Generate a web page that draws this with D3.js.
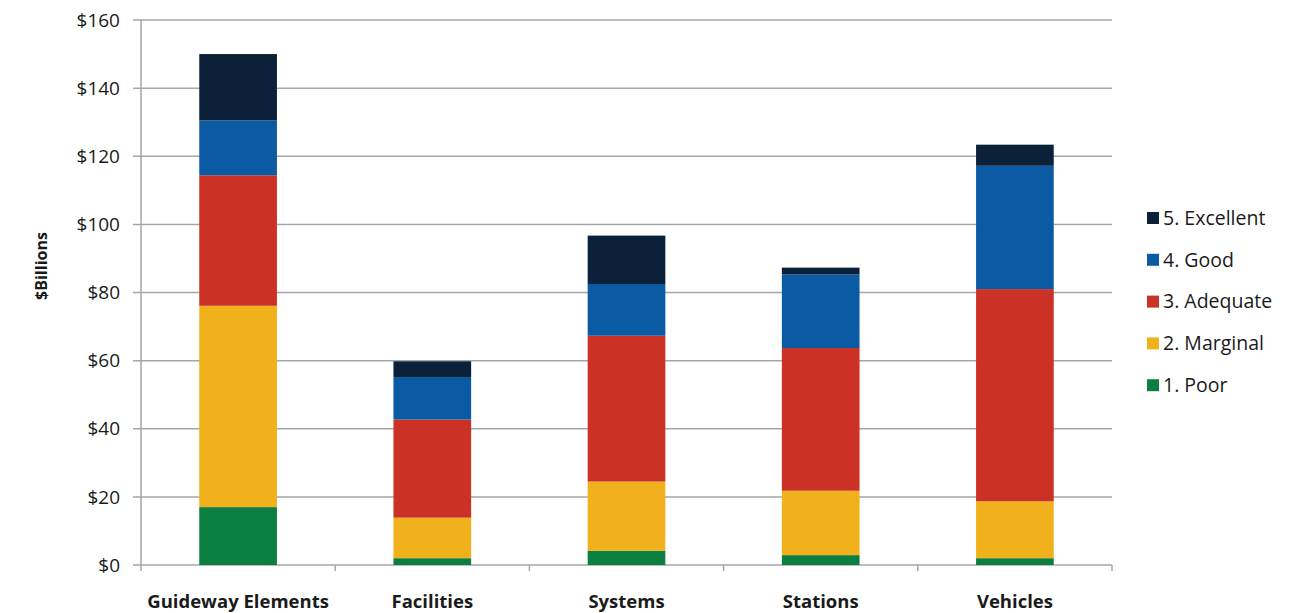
<!DOCTYPE html>
<html>
<head>
<meta charset="utf-8">
<script src="https://cdn.jsdelivr.net/npm/d3@7"></script>
<style>
  body { margin: 0; background: #fff; }
  text { font-family: "Open Sans", "Liberation Sans", sans-serif; fill: #1a1a1a; }
</style>
</head>
<body>
<div id="chart"></div>
<script>
// categories and condition series (values in $billions)
const categories = ["Guideway Elements", "Facilities", "Systems", "Stations", "Vehicles"];
const series = ["1. Poor", "2. Marginal", "3. Adequate", "4. Good", "5. Excellent"];
const poor      = [17.0, 2.0, 4.2, 2.9, 2.0];
const marginal  = [59.1, 11.9, 20.3, 18.9, 16.7];
const adequate  = [38.3, 28.8, 42.8, 41.9, 62.3];
const good      = [16.1, 12.5, 15.2, 21.6, 36.2];
const excellent = [19.5, 4.6, 14.2, 2.0, 6.2];
const yTicks = [0, 20, 40, 60, 80, 100, 120, 140, 160];
const colors = ["#0b7f40", "#f0b11d", "#cc3126", "#0a5ba4", "#0a2139"];

// build rows for d3.stack
const seriesValues = [poor, marginal, adequate, good, excellent];
const rows = categories.map(function(c, i) {
    let r = { cat: c };
    series.forEach(function(s, j) { r[s] = seriesValues[j][i]; });
    return r;
});

var svg = d3.select("#chart").append("svg")
    .attr("width", 1295)
    .attr("height", 613);

var plotLeft = 141, plotRight = 1112, plotTop = 20, plotBottom = 565;

var x = d3.scaleBand()
    .domain(categories)
    .range([plotLeft, plotRight])
    .paddingInner(0.6)
    .paddingOuter(0.3);

var y = d3.scaleLinear()
    .domain([0, 160])
    .range([plotBottom, plotTop]);

// gridlines
svg.append("g")
    .selectAll("line")
    .data(yTicks)
    .enter()
    .append("line")
    .attr("x1", plotLeft - 8)
    .attr("x2", plotRight)
    .attr("y1", function(d) { return y(d); })
    .attr("y2", function(d) { return y(d); })
    .attr("stroke", "#a6a6a6")
    .attr("stroke-width", 1.5);

// y axis labels
svg.append("g")
    .selectAll("text")
    .data(yTicks)
    .enter()
    .append("text")
    .attr("x", plotLeft - 21)
    .attr("y", function(d) { return y(d); })
    .attr("dy", "0.35em")
    .attr("text-anchor", "end")
    .style("font-size", "19px")
    .text(function(d) { return "$" + d; });

// y axis line
svg.append("line")
    .attr("x1", plotLeft).attr("x2", plotLeft)
    .attr("y1", plotTop).attr("y2", plotBottom + 6)
    .attr("stroke", "#a6a6a6")
    .attr("stroke-width", 1.5);

// category divider ticks
var step = (plotRight - plotLeft) / categories.length;
svg.append("g")
    .selectAll("line")
    .data(d3.range(1, categories.length + 1))
    .enter()
    .append("line")
    .attr("x1", function(i) { return plotLeft + i * step; })
    .attr("x2", function(i) { return plotLeft + i * step; })
    .attr("y1", plotBottom)
    .attr("y2", plotBottom + 6)
    .attr("stroke", "#a6a6a6")
    .attr("stroke-width", 1.5);

// stacked bars
var stack = d3.stack().keys(series);
var layers = stack(rows);

svg.append("g")
    .selectAll("g")
    .data(layers)
    .enter()
    .append("g")
    .attr("fill", function(d, i) { return colors[i]; })
    .selectAll("rect")
    .data(function(d) { return d; })
    .enter()
    .append("rect")
    .attr("x", function(d) { return x(d.data.cat); })
    .attr("y", function(d) { return y(d[1]); })
    .attr("height", function(d) { return y(d[0]) - y(d[1]); })
    .attr("width", x.bandwidth());

// x category labels
svg.append("g")
    .selectAll("text")
    .data(categories)
    .enter()
    .append("text")
    .attr("x", function(d) { return x(d) + x.bandwidth() / 2; })
    .attr("y", 608)
    .attr("text-anchor", "middle")
    .style("font-size", "18.5px")
    .style("font-weight", "bold")
    .text(function(d) { return d; });

// y axis title
svg.append("text")
    .attr("transform", "translate(47,266) rotate(-90)")
    .attr("text-anchor", "middle")
    .style("font-size", "16px")
    .style("font-weight", "bold")
    .text("$Billions");

// legend, top entry is Excellent
var legendItems = series.slice().reverse();
var legendColors = colors.slice().reverse();
var legend = svg.append("g")
    .selectAll("g")
    .data(legendItems)
    .enter()
    .append("g")
    .attr("transform", function(d, i) { return "translate(1147," + (218 + i * 41.8) + ")"; });

legend.append("rect")
    .attr("x", 0)
    .attr("y", -6)
    .attr("width", 12)
    .attr("height", 12)
    .attr("fill", function(d, i) { return legendColors[i]; });

legend.append("text")
    .attr("x", 16)
    .attr("y", 0)
    .attr("dy", "0.35em")
    .style("font-size", "19.5px")
    .text(function(d) { return d; });
</script>
</body>
</html>
